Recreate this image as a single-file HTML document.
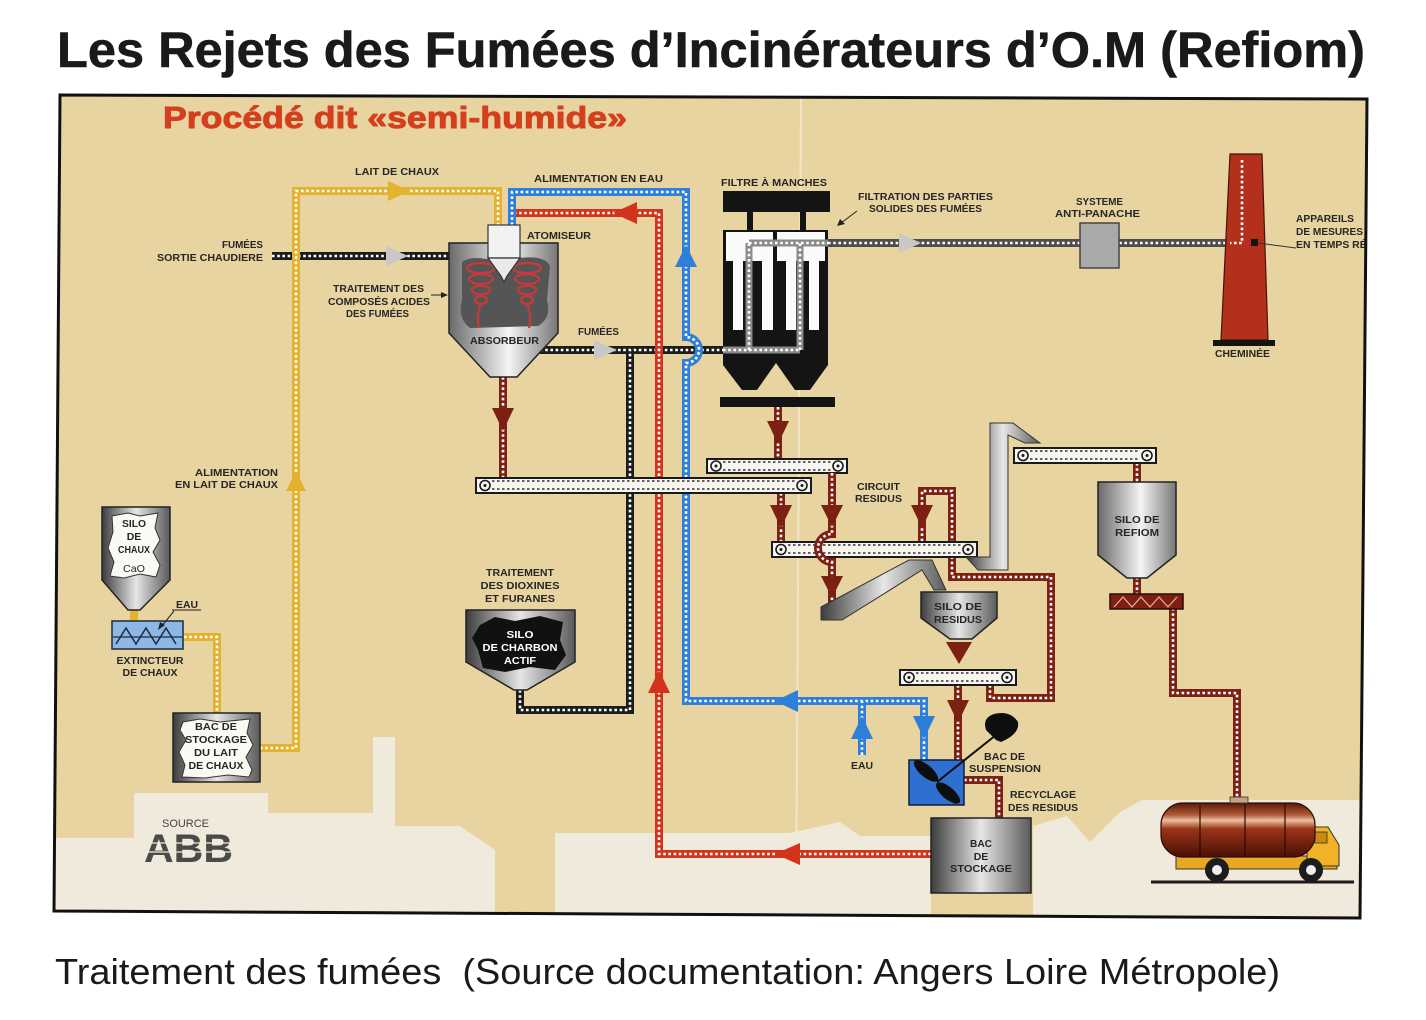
<!DOCTYPE html>
<html><head><meta charset="utf-8">
<style>
html,body{margin:0;padding:0;background:#fff;}
svg{display:block;}
.py{fill:none;stroke:#e3b22e;stroke-width:8}
.pb{fill:none;stroke:#2e7fd9;stroke-width:8}
.pr{fill:none;stroke:#d3321b;stroke-width:8}
.pd{fill:none;stroke:#7c2014;stroke-width:8}
.pk{fill:none;stroke:#1c1c1c;stroke-width:8}
.pg{fill:none;stroke:#4d4d4d;stroke-width:8}
.dt{fill:none;stroke:#fff;stroke-width:2.6;stroke-dasharray:2.6 2.6}
.lb{font-family:"Liberation Sans",sans-serif;font-weight:bold;font-size:10.5px;fill:#262626}
.cv{fill:#f6f5ef;stroke:#1a1a1a;stroke-width:2}
.cc{fill:none;stroke:#1a1a1a;stroke-width:1.6}
.cd{stroke:#333;stroke-width:1.5;stroke-dasharray:2.5 2.5}
</style></head>
<body>
<svg width="1426" height="1020" viewBox="0 0 1426 1020" xmlns="http://www.w3.org/2000/svg">
<defs>
<linearGradient id="gm" x1="0" x2="1" y1="0" y2="0">
<stop offset="0" stop-color="#6a6a6a"/><stop offset=".55" stop-color="#f4f4f4"/><stop offset="1" stop-color="#767676"/>
</linearGradient>
<linearGradient id="gd" x1="0" x2="1" y1="0" y2="0">
<stop offset="0" stop-color="#3c3c3c"/><stop offset=".5" stop-color="#e6e6e6"/><stop offset="1" stop-color="#5a5a5a"/>
</linearGradient>
<linearGradient id="gt" x1="0" x2="0" y1="0" y2="1">
<stop offset="0" stop-color="#5a1808"/><stop offset=".22" stop-color="#b05a38"/><stop offset=".32" stop-color="#ecc0a0"/><stop offset=".48" stop-color="#9a3418"/><stop offset="1" stop-color="#4a1005"/>
</linearGradient>
<clipPath id="fr"><polygon points="60,95 1367,99 1360,918 54,911"/></clipPath>
</defs>

<!-- Title -->
<text x="57" y="67" font-family="'Liberation Sans',sans-serif" font-weight="bold" font-size="50" fill="#1a1a1a" stroke="#1a1a1a" stroke-width="0.6" textLength="1308" lengthAdjust="spacingAndGlyphs">Les Rejets des Fumées d’Incinérateurs d’O.M (Refiom)</text>

<!-- Frame background -->
<polygon points="60,95 1367,99 1360,918 54,911" fill="#e7d4a1"/>
<g clip-path="url(#fr)">
<polygon points="54,838 134,838 134,793 268,793 268,813 373,813 373,737 395,737 395,826 460,826 495,850 495,920 555,920 555,833 790,833 840,822 860,836 931,836 931,920 1033,920 1033,826 1067,816 1090,842 1120,812 1142,800 1370,800 1370,925 54,925" fill="#efeadb"/>
<line x1="801" y1="97" x2="796" y2="916" stroke="#f4ecd2" stroke-width="2" opacity=".8"/>

<!-- Subtitle -->
<text x="163" y="128" font-family="'Liberation Sans',sans-serif" font-weight="bold" font-size="31" fill="#d43f1e" stroke="#d43f1e" stroke-width="0.9" textLength="464" lengthAdjust="spacingAndGlyphs">Procédé dit «semi-humide»</text>

<!-- Fumées pipes -->
<path class="pk" d="M272 256 H449"/><path class="dt" d="M272 256 H449"/>
<path class="pk" d="M540 350 H723"/><path class="dt" d="M540 350 H723"/>
<path class="pg" d="M828 243 H1230"/><path class="dt" d="M828 243 H1230"/>
<polygon points="408,256 386,246 386,266" fill="#c8c8c8"/>
<polygon points="617,350 594,340 594,360" fill="#c8c8c8"/>
<polygon points="921,243 899,233 899,253" fill="#c8c8c8"/>

<!-- Black charbon pipe -->
<path class="pk" d="M520 690 V710 H630 V350"/><path class="dt" d="M520 690 V710 H630 V350"/>

<!-- Yellow -->
<path class="py" d="M260 748 H296 V191 H498 V225"/><path class="dt" d="M260 748 H296 V191 H498 V225"/>
<path class="py" d="M184 637 H217 V713"/><path class="dt" d="M184 637 H217 V713"/>
<path class="py" d="M134 610 V621"/>
<polygon points="296,471 286,491 306,491" fill="#e3b22e"/>
<polygon points="410,191 388,181 388,201" fill="#e3b22e"/>

<!-- Red recycling -->
<path class="pr" d="M931 854 H659 V213 H516"/><path class="dt" d="M931 854 H659 V213 H516"/>
<polygon points="775,854 800,843 800,865" fill="#d3321b"/>
<polygon points="659,670 648,693 670,693" fill="#d3321b"/>
<polygon points="613,213 637,202 637,224" fill="#d3321b"/>

<!-- Blue water -->
<path class="pb" d="M512 225 V192 H686 V337 A13 13 0 0 1 686 363 V701 H924 V760"/><path class="dt" d="M512 225 V192 H686 V337 A13 13 0 0 1 686 363 V701 H924 V760"/>
<path class="pb" d="M862 755 V701"/><path class="dt" d="M862 755 V701"/>
<polygon points="686,245 675,267 697,267" fill="#2e7fd9"/>
<polygon points="775,701 798,690 798,712" fill="#2e7fd9"/>
<polygon points="924,739 913,716 935,716" fill="#2e7fd9"/>
<polygon points="862,716 851,739 873,739" fill="#2e7fd9"/>

<!-- Dark red residues -->
<path class="pd" d="M503 377 V478"/><path class="dt" d="M503 377 V478"/>
<polygon points="503,431 492,408 514,408" fill="#7c2014"/>
<path class="pd" d="M778 407 V459"/><path class="dt" d="M778 407 V459"/>
<polygon points="778,444 767,421 789,421" fill="#7c2014"/>
<path class="pd" d="M781 493 V542"/><path class="dt" d="M781 493 V542"/>
<polygon points="781,528 770,505 792,505" fill="#7c2014"/>
<path class="pd" d="M990 685 V698 H1051 V577 H952 V491 H922 V542"/><path class="dt" d="M990 685 V698 H1051 V577 H952 V491 H922 V542"/>
<polygon points="922,528 911,505 933,505" fill="#7c2014"/>
<path class="pd" d="M958 685 V760"/><path class="dt" d="M958 685 V760"/>
<polygon points="958,723 947,700 969,700" fill="#7c2014"/>
<polygon points="959,664 946,642 972,642" fill="#7c2014"/>
<path class="pd" d="M964 780 H999 V818"/><path class="dt" d="M964 780 H999 V818"/>
<path class="pd" d="M1137 463 V482"/><path class="dt" d="M1137 463 V482"/>
<path class="pd" d="M1137 577 V595"/><path class="dt" d="M1137 577 V595"/>
<path class="pd" d="M1173 608 V693 H1237 V803"/><path class="dt" d="M1173 608 V693 H1237 V803"/>

<!-- Conveyors -->
<g>
<rect class="cv" x="476" y="478" width="335" height="15"/>
<circle class="cc" cx="485" cy="485.5" r="5"/><circle cx="485" cy="485.5" r="1.5" fill="#1a1a1a"/>
<circle class="cc" cx="802" cy="485.5" r="5"/><circle cx="802" cy="485.5" r="1.5" fill="#1a1a1a"/>
<line class="cd" x1="492" y1="489" x2="795" y2="489"/>
<line class="cd" x1="492" y1="481" x2="795" y2="481"/>
</g>
<g>
<rect class="cv" x="707" y="459" width="140" height="14"/>
<circle class="cc" cx="716" cy="466" r="5"/><circle cx="716" cy="466" r="1.5" fill="#1a1a1a"/>
<circle class="cc" cx="838" cy="466" r="5"/><circle cx="838" cy="466" r="1.5" fill="#1a1a1a"/>
<line class="cd" x1="723" y1="470" x2="831" y2="470"/>
<line class="cd" x1="723" y1="462" x2="831" y2="462"/>
</g>
<g>
<rect class="cv" x="772" y="542" width="205" height="15"/>
<circle class="cc" cx="781" cy="549.5" r="5"/><circle cx="781" cy="549.5" r="1.5" fill="#1a1a1a"/>
<circle class="cc" cx="968" cy="549.5" r="5"/><circle cx="968" cy="549.5" r="1.5" fill="#1a1a1a"/>
<line class="cd" x1="788" y1="553" x2="961" y2="553"/>
<line class="cd" x1="788" y1="545" x2="961" y2="545"/>
</g>
<g>
<rect class="cv" x="900" y="670" width="116" height="15"/>
<circle class="cc" cx="909" cy="677.5" r="5"/><circle cx="909" cy="677.5" r="1.5" fill="#1a1a1a"/>
<circle class="cc" cx="1007" cy="677.5" r="5"/><circle cx="1007" cy="677.5" r="1.5" fill="#1a1a1a"/>
<line class="cd" x1="916" y1="681" x2="1000" y2="681"/>
<line class="cd" x1="916" y1="673" x2="1000" y2="673"/>
</g>
<g>
<rect class="cv" x="1014" y="448" width="142" height="15"/>
<circle class="cc" cx="1023" cy="455.5" r="5"/><circle cx="1023" cy="455.5" r="1.5" fill="#1a1a1a"/>
<circle class="cc" cx="1147" cy="455.5" r="5"/><circle cx="1147" cy="455.5" r="1.5" fill="#1a1a1a"/>
<line class="cd" x1="1030" y1="459" x2="1140" y2="459"/>
<line class="cd" x1="1030" y1="451" x2="1140" y2="451"/>
</g>

<!-- Hump pipe over C3 -->
<path class="pd" d="M832 473 V534 A14 14 0 0 0 832 562 V607"/><path class="dt" d="M832 473 V534 A14 14 0 0 0 832 562 V607"/>
<polygon points="832,527 821,505 843,505" fill="#7c2014"/>
<polygon points="832,598 821,576 843,576" fill="#7c2014"/>

<!-- Elevator and chute -->
<polygon points="990,423 1013,423 1040,443 1025,443 1008,435 1008,570 978,570 966,557 990,557" fill="url(#gd)" stroke="#333" stroke-width="1"/>
<polygon points="821,607 909,560 932,560 946,590 934,590 922,570 842,620 821,620" fill="url(#gd)" stroke="#333" stroke-width="1"/>

<!-- Absorber -->
<polygon points="449,243 558,243 558,333 517,377 490,377 449,333" fill="url(#gm)" stroke="#222" stroke-width="1.5"/>
<path d="M462 262 Q470 256 486 259 L520 258 Q545 255 550 266 L547 300 Q552 318 538 326 L470 328 Q457 318 462 300 Z" fill="#555"/>
<g fill="none" stroke="#c83a3a" stroke-width="2.2">
<ellipse cx="481" cy="268" rx="14" ry="5"/><ellipse cx="481" cy="279" rx="12" ry="5"/><ellipse cx="481" cy="290" rx="9" ry="4.5"/><ellipse cx="481" cy="300" rx="6" ry="4"/>
<path d="M481 304 Q476 315 479 328"/>
<ellipse cx="527" cy="268" rx="14" ry="5"/><ellipse cx="527" cy="279" rx="12" ry="5"/><ellipse cx="527" cy="290" rx="9" ry="4.5"/><ellipse cx="527" cy="300" rx="6" ry="4"/>
<path d="M527 304 Q532 315 529 328"/>
</g>
<rect x="488" y="225" width="32" height="33" fill="#f2f2f2" stroke="#333" stroke-width="1.2"/>
<polygon points="488,258 520,258 507,276 504,282 501,276" fill="#eaeaea" stroke="#333" stroke-width="1.2"/>

<!-- Filter -->
<rect x="723" y="191" width="107" height="21" fill="#141414"/>
<rect x="747" y="212" width="6" height="19" fill="#141414"/>
<rect x="800" y="212" width="6" height="19" fill="#141414"/>
<rect x="723" y="230" width="105" height="126" fill="#141414"/>
<rect x="726" y="232" width="47" height="29" fill="#fafafa"/>
<rect x="777" y="232" width="48" height="29" fill="#fafafa"/>
<rect x="733" y="258" width="10" height="72" fill="#fafafa"/>
<rect x="762" y="258" width="11" height="72" fill="#fafafa"/>
<rect x="786" y="258" width="10" height="72" fill="#fafafa"/>
<rect x="809" y="258" width="10" height="72" fill="#fafafa"/>
<polygon points="723,355 828,355 828,365 810,390 795,390 776,363 757,390 742,390 723,365" fill="#141414"/>
<rect x="720" y="397" width="115" height="10" fill="#141414"/>
<path d="M723 350 H800 M749 350 V243 M800 350 V243 M749 243 H828" fill="none" stroke="#8a8a8a" stroke-width="7"/>
<path class="dt" d="M723 350 H800 M749 350 V243 M800 350 V243 M749 243 H828"/>

<!-- Anti-panache -->
<rect x="1080" y="223" width="39" height="45" fill="#a9a9a9" stroke="#444" stroke-width="1.5"/>

<!-- Chimney -->
<polygon points="1230,154 1262,154 1268,340 1221,340" fill="#b3301c" stroke="#4a1208" stroke-width="1.2"/>
<path class="dt" d="M1242 160 V243 H1230"/>
<rect x="1213" y="340" width="62" height="6" fill="#141414"/>
<rect x="1251" y="239" width="7" height="7" fill="#141414"/>
<line x1="1258" y1="243" x2="1296" y2="248" stroke="#333" stroke-width="1"/>

<!-- Silo de chaux -->
<polygon points="102,507 170,507 170,580 140,610 128,610 102,580" fill="url(#gd)" stroke="#222" stroke-width="1.5"/>
<polygon points="112,516 128,513 140,516 158,513 155,528 160,540 153,552 160,565 156,577 140,574 124,578 110,576 114,562 108,548 113,532" fill="#fafaf4" stroke="#333" stroke-width="1"/>

<!-- Extincteur -->
<rect x="112" y="621" width="71" height="28" fill="#8db8e6" stroke="#1c2a40" stroke-width="1.5"/>
<line x1="113" y1="637" x2="182" y2="637" stroke="#1c2a40" stroke-width="1.2"/>
<polyline points="116,644 126,628 136,644 146,628 156,644 166,628 176,644" fill="none" stroke="#1c2a40" stroke-width="1.5"/>
<line x1="172" y1="610" x2="201" y2="610" stroke="#222" stroke-width="1"/>
<line x1="174" y1="611" x2="161" y2="627" stroke="#222" stroke-width="1"/>
<polygon points="158,630 160,622 165,625" fill="#222"/>

<!-- Bac de stockage lait -->
<rect x="173" y="713" width="87" height="69" fill="url(#gd)" stroke="#222" stroke-width="1.5"/>
<polygon points="183,722 200,719 220,722 250,719 247,733 253,745 246,757 252,770 249,777 228,775 205,778 182,777 185,765 179,752 186,740 180,730" fill="#fafaf4" stroke="#333" stroke-width="1"/>

<!-- Silo charbon -->
<polygon points="466,610 575,610 575,662 527,690 514,690 466,662" fill="url(#gd)" stroke="#222" stroke-width="1.5"/>
<polygon points="480,625 495,617 515,621 540,616 563,622 560,640 566,655 555,670 530,667 505,672 483,668 478,650 472,638" fill="#111"/>

<!-- Silo de residus -->
<polygon points="921,592 997,592 997,618 972,639 950,639 921,618" fill="url(#gd)" stroke="#222" stroke-width="1.5"/>

<!-- Silo de refiom -->
<polygon points="1098,482 1176,482 1176,555 1147,578 1127,578 1098,555" fill="url(#gm)" stroke="#222" stroke-width="1.5"/>
<rect x="1110" y="594" width="73" height="15" fill="#7c2014" stroke="#2a0a05" stroke-width="1.5"/>
<polyline points="1114,607 1123,597 1132,607 1141,597 1150,607 1159,597 1168,607 1177,597" fill="none" stroke="#e6b49a" stroke-width="1.2"/>

<!-- Bac de suspension -->
<rect x="909" y="760" width="55" height="45" fill="#2f6fcf" stroke="#0f1f3f" stroke-width="1.5"/>
<ellipse cx="926" cy="771" rx="15" ry="6" transform="rotate(40 926 771)" fill="#0e0e0e"/>
<ellipse cx="948" cy="793" rx="15" ry="6" transform="rotate(40 948 793)" fill="#0e0e0e"/>
<line x1="937" y1="782" x2="1001" y2="731" stroke="#0e0e0e" stroke-width="2"/>
<path d="M996 740 L986 730 Q982 718 994 714 Q1010 710 1018 722 Q1020 734 1001 742 Z" fill="#0e0e0e"/>

<!-- Bac de stockage -->
<rect x="931" y="818" width="100" height="75" fill="url(#gd)" stroke="#222" stroke-width="1.5"/>

<!-- Truck -->
<rect x="1176" y="856" width="161" height="13" fill="#e8a820" stroke="#333" stroke-width="1"/>
<path d="M1307 827 H1328 L1339 845 V866 H1307 Z" fill="#f0b226" stroke="#333" stroke-width="1"/>
<rect x="1315" y="832" width="12" height="11" fill="#c98a10" stroke="#333" stroke-width=".8"/>
<rect x="1161" y="803" width="154" height="54" rx="22" fill="url(#gt)" stroke="#2a0a03" stroke-width="1.2"/>
<g stroke="#2a0a03" stroke-width="1.2"><line x1="1200" y1="805" x2="1200" y2="855"/><line x1="1245" y1="804" x2="1245" y2="856"/><line x1="1285" y1="804" x2="1285" y2="856"/></g>
<rect x="1230" y="797" width="18" height="6" fill="#c9a080" stroke="#333" stroke-width=".8"/>
<circle cx="1217" cy="870" r="12" fill="#1c1c1c"/><circle cx="1217" cy="870" r="5" fill="#eee"/>
<circle cx="1311" cy="870" r="12" fill="#1c1c1c"/><circle cx="1311" cy="870" r="5" fill="#eee"/>
<line x1="1151" y1="882" x2="1354" y2="882" stroke="#1c1c1c" stroke-width="3"/>

<!-- ABB -->
<text x="162" y="827" font-family="'Liberation Sans',sans-serif" font-size="11" fill="#444" textLength="47" lengthAdjust="spacingAndGlyphs">SOURCE</text>
<text x="144" y="862" font-family="'Liberation Sans',sans-serif" font-weight="bold" font-size="40" fill="#4a4a4a" textLength="89" lengthAdjust="spacingAndGlyphs">ABB</text>
<g stroke="#efeadb" stroke-width="1.3"><line x1="140" y1="843" x2="236" y2="843"/><line x1="140" y1="852" x2="236" y2="852"/><line x1="174" y1="830" x2="174" y2="865"/><line x1="203" y1="830" x2="203" y2="865"/></g>

<!-- Small arrows for labels -->
<line x1="431" y1="295" x2="444" y2="295" stroke="#222" stroke-width="1"/>
<polygon points="448,295 441,292 441,298" fill="#222"/>
<line x1="857" y1="211" x2="841" y2="223" stroke="#222" stroke-width="1"/>
<polygon points="837,226 840,219 845,224" fill="#222"/>

<!-- Labels -->
<g class="lb">
<text x="355" y="175" textLength="84" lengthAdjust="spacingAndGlyphs">LAIT DE CHAUX</text>
<text x="534" y="182" textLength="129" lengthAdjust="spacingAndGlyphs">ALIMENTATION EN EAU</text>
<text x="721" y="186" textLength="106" lengthAdjust="spacingAndGlyphs">FILTRE À MANCHES</text>
<text x="858" y="200" textLength="135" lengthAdjust="spacingAndGlyphs">FILTRATION DES PARTIES</text>
<text x="869" y="212" textLength="113" lengthAdjust="spacingAndGlyphs">SOLIDES DES FUMÉES</text>
<text x="1076" y="205" textLength="47" lengthAdjust="spacingAndGlyphs">SYSTEME</text>
<text x="1055" y="217" textLength="85" lengthAdjust="spacingAndGlyphs">ANTI-PANACHE</text>
<text x="1296" y="222" textLength="58" lengthAdjust="spacingAndGlyphs">APPAREILS</text>
<text x="1296" y="235" textLength="67" lengthAdjust="spacingAndGlyphs">DE MESURES</text>
<text x="1296" y="248" textLength="84" lengthAdjust="spacingAndGlyphs">EN TEMPS RÉEL</text>
<text x="1215" y="357" textLength="55" lengthAdjust="spacingAndGlyphs">CHEMINÉE</text>
<text x="222" y="248" textLength="41" lengthAdjust="spacingAndGlyphs">FUMÉES</text>
<text x="157" y="261" textLength="106" lengthAdjust="spacingAndGlyphs">SORTIE CHAUDIERE</text>
<text x="527" y="239" textLength="64" lengthAdjust="spacingAndGlyphs">ATOMISEUR</text>
<text x="333" y="292" textLength="91" lengthAdjust="spacingAndGlyphs">TRAITEMENT DES</text>
<text x="328" y="305" textLength="102" lengthAdjust="spacingAndGlyphs">COMPOSÉS ACIDES</text>
<text x="346" y="317" textLength="63" lengthAdjust="spacingAndGlyphs">DES FUMÉES</text>
<text x="470" y="344" textLength="69" lengthAdjust="spacingAndGlyphs">ABSORBEUR</text>
<text x="578" y="335" textLength="41" lengthAdjust="spacingAndGlyphs">FUMÉES</text>
<text x="195" y="476" textLength="83" lengthAdjust="spacingAndGlyphs">ALIMENTATION</text>
<text x="175" y="488" textLength="103" lengthAdjust="spacingAndGlyphs">EN LAIT DE CHAUX</text>
<text x="857" y="490" textLength="43" lengthAdjust="spacingAndGlyphs">CIRCUIT</text>
<text x="855" y="502" textLength="47" lengthAdjust="spacingAndGlyphs">RESIDUS</text>
<text x="176" y="608" textLength="22" lengthAdjust="spacingAndGlyphs">EAU</text>
<text x="862" y="769" text-anchor="middle" textLength="22" lengthAdjust="spacingAndGlyphs">EAU</text>
<text x="984" y="760" textLength="41" lengthAdjust="spacingAndGlyphs">BAC DE</text>
<text x="969" y="772" textLength="72" lengthAdjust="spacingAndGlyphs">SUSPENSION</text>
<text x="1010" y="798" textLength="66" lengthAdjust="spacingAndGlyphs">RECYCLAGE</text>
<text x="1008" y="811" textLength="70" lengthAdjust="spacingAndGlyphs">DES RESIDUS</text>
<g text-anchor="middle">
<text x="1137" y="523" textLength="45" lengthAdjust="spacingAndGlyphs">SILO DE</text>
<text x="1137" y="536" textLength="44" lengthAdjust="spacingAndGlyphs">REFIOM</text>
<text x="958" y="610" textLength="48" lengthAdjust="spacingAndGlyphs">SILO DE</text>
<text x="958" y="623" textLength="48" lengthAdjust="spacingAndGlyphs">RESIDUS</text>
<text x="520" y="576" textLength="68" lengthAdjust="spacingAndGlyphs">TRAITEMENT</text>
<text x="520" y="589" textLength="79" lengthAdjust="spacingAndGlyphs">DES DIOXINES</text>
<text x="520" y="602" textLength="70" lengthAdjust="spacingAndGlyphs">ET FURANES</text>
<text x="520" y="638" style="fill:#fff" textLength="27" lengthAdjust="spacingAndGlyphs">SILO</text>
<text x="520" y="651" style="fill:#fff" textLength="75" lengthAdjust="spacingAndGlyphs">DE CHARBON</text>
<text x="520" y="664" style="fill:#fff" textLength="32" lengthAdjust="spacingAndGlyphs">ACTIF</text>
<text x="134" y="527" textLength="24" lengthAdjust="spacingAndGlyphs">SILO</text>
<text x="134" y="540">DE</text>
<text x="134" y="553" textLength="32" lengthAdjust="spacingAndGlyphs">CHAUX</text>
<text x="134" y="572" style="font-weight:normal" textLength="22" lengthAdjust="spacingAndGlyphs">CaO</text>
<text x="150" y="664" textLength="67" lengthAdjust="spacingAndGlyphs">EXTINCTEUR</text>
<text x="150" y="676" textLength="55" lengthAdjust="spacingAndGlyphs">DE CHAUX</text>
<text x="216" y="730" textLength="42" lengthAdjust="spacingAndGlyphs">BAC DE</text>
<text x="216" y="743" textLength="62" lengthAdjust="spacingAndGlyphs">STOCKAGE</text>
<text x="216" y="756" textLength="44" lengthAdjust="spacingAndGlyphs">DU LAIT</text>
<text x="216" y="769" textLength="55" lengthAdjust="spacingAndGlyphs">DE CHAUX</text>
<text x="981" y="847" textLength="22" lengthAdjust="spacingAndGlyphs">BAC</text>
<text x="981" y="860">DE</text>
<text x="981" y="872" textLength="62" lengthAdjust="spacingAndGlyphs">STOCKAGE</text>
</g>
</g>
</g>

<!-- Frame border -->
<polygon points="60,95 1367,99 1360,918 54,911" fill="none" stroke="#111" stroke-width="3"/>

<!-- Caption -->
<text x="55" y="984" xml:space="preserve" font-family="'Liberation Sans',sans-serif" font-size="36" fill="#1a1a1a" textLength="1225" lengthAdjust="spacingAndGlyphs">Traitement des fumées  (Source documentation: Angers Loire Métropole)</text>
</svg>
</body></html>
